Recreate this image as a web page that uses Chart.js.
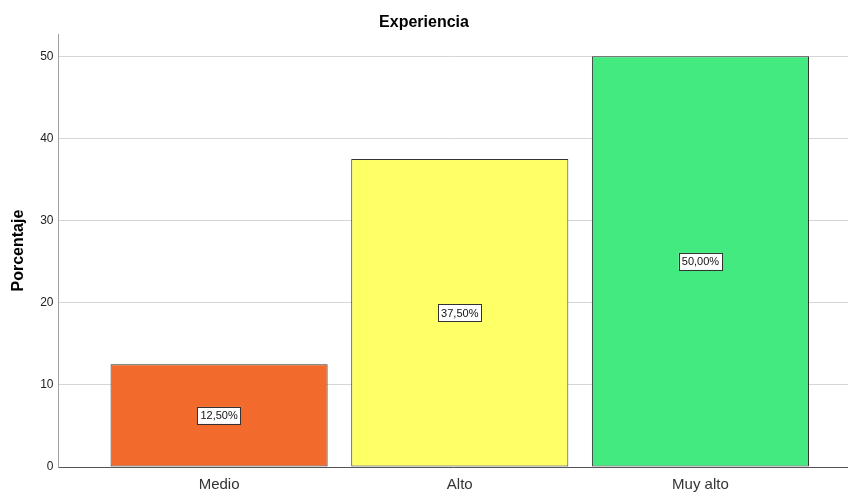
<!DOCTYPE html>
<html>
<head>
<meta charset="utf-8">
<script src="https://cdn.jsdelivr.net/npm/chart.js@4"></script>
<style>
  html, body { margin: 0; padding: 0; background: #fff; }
  #wrap { width: 848px; height: 492px; }
</style>
</head>
<body>
<div id="wrap"><canvas id="chart" width="848" height="492"></canvas></div>
<script>
// data
const categories = ['Medio', 'Alto', 'Muy alto'];
const percentages = [12.5, 37.5, 50.0];
const valueLabels = ['12,50%', '37,50%', '50,00%'];
const barColors = ['#F26B2D', '#FFFF66', '#43EA80'];
const yTicks = [0, 10, 20, 30, 40, 50];

// box label in the middle of each bar
const boxLabels = {
  id: 'boxLabels',
  afterDatasetsDraw(chart) {
    const ctx = chart.ctx;
    const meta = chart.getDatasetMeta(0);
    ctx.save();
    ctx.font = '11px "Liberation Sans", Arial, sans-serif';
    ctx.textAlign = 'center';
    ctx.textBaseline = 'middle';
    meta.data.forEach((bar, i) => {
      const txt = valueLabels[i];
      const cy = (bar.y + bar.base) / 2;
      const w = ctx.measureText(txt).width + 6;
      const h = 17;
      ctx.fillStyle = '#ffffff';
      ctx.fillRect(bar.x - w / 2, cy - h / 2, w, h);
      ctx.strokeStyle = '#333333';
      ctx.lineWidth = 1;
      ctx.strokeRect(Math.round(bar.x - w / 2) + 0.5, Math.round(cy - h / 2) + 0.5, Math.round(w), h);
      ctx.fillStyle = '#111111';
      ctx.fillText(txt, bar.x, cy + 1);
    });
    ctx.restore();
  }
};

new Chart(document.getElementById('chart'), {
  type: 'bar',
  data: {
    datasets: [{
      data: categories.map((c, i) => ({ x: i, y: percentages[i] })),
      backgroundColor: barColors,
      borderColor: '#333333',
      borderWidth: 1,
      borderSkipped: false,
      barPercentage: 0.902,
      categoryPercentage: 1
    }]
  },
  options: {
    responsive: false,
    animation: false,
    layout: { padding: { left: 0, right: 0, top: 0, bottom: 0 } },
    plugins: {
      legend: { display: false },
      tooltip: { enabled: false },
      title: {
        display: true,
        text: 'Experiencia',
        color: '#000',
        font: { family: '"Liberation Sans", Arial, sans-serif', size: 16, weight: 'bold', lineHeight: 1.2 },
        padding: { top: 13, bottom: 2 }
      }
    },
    scales: {
      x: {
        type: 'linear',
        min: -0.667,
        max: 2.613,
        offset: false,
        grid: { display: false, drawTicks: false },
        border: { display: true, color: '#555555', width: 1 },
        afterBuildTicks: (scale) => {
          scale.ticks = categories.map((c, i) => ({ value: i }));
        },
        afterFit: (scale) => { scale.height = 25; },
        ticks: {
          color: '#333333',
          font: { family: '"Liberation Sans", Arial, sans-serif', size: 15, lineHeight: 1.0 },
          padding: 10,
          autoSkip: false,
          maxRotation: 0,
          callback: (v) => categories[v]
        }
      },
      y: {
        min: 0,
        max: 52.7,
        afterBuildTicks: (scale) => {
          scale.ticks = yTicks.map(v => ({ value: v }));
        },
        grid: { color: '#d6d6d6', drawTicks: false, lineWidth: 1 },
        border: { display: true, color: '#a0a0a0', width: 1 },
        ticks: {
          color: '#222222',
          font: { family: '"Liberation Sans", Arial, sans-serif', size: 12 },
          padding: 5
        },
        title: {
          display: true,
          text: 'Porcentaje',
          color: '#000',
          font: { family: '"Liberation Sans", Arial, sans-serif', size: 16, weight: 'bold', lineHeight: 1.2 },
          padding: { top: 9, bottom: 7 }
        }
      }
    }
  },
  plugins: [boxLabels]
});
</script>
</body>
</html>
